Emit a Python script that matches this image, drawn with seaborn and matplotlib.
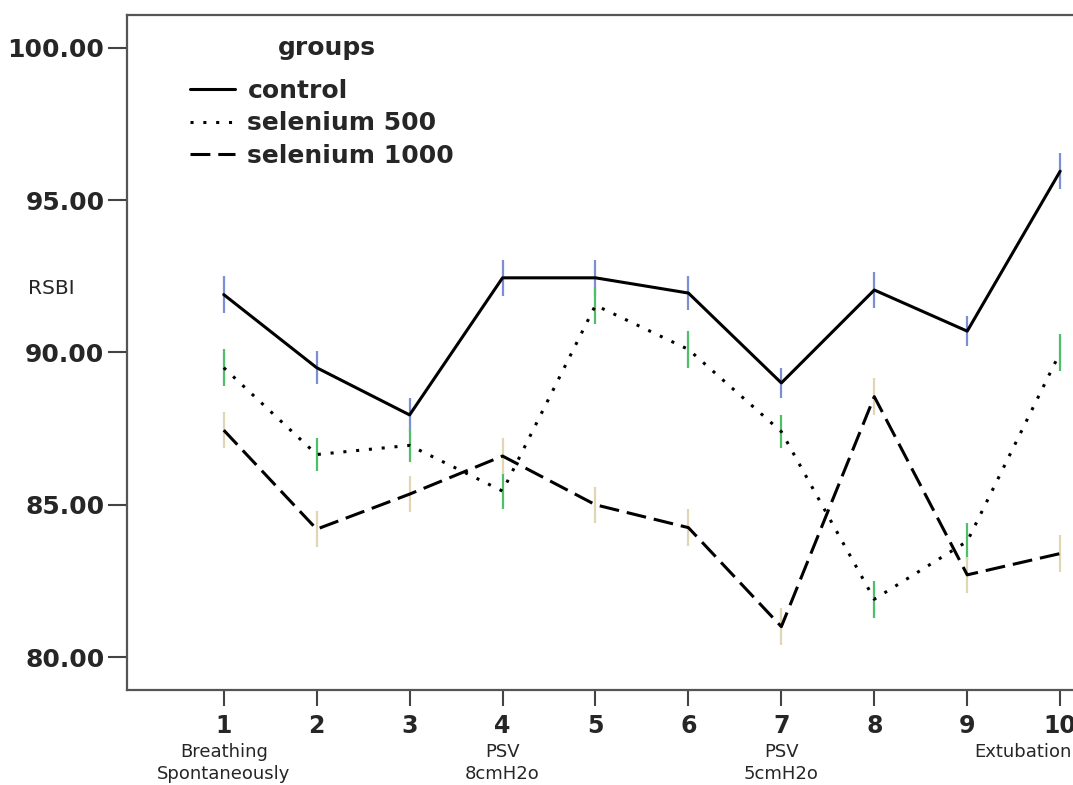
import pandas as pd
import matplotlib.pyplot as plt
import seaborn as sns

# data
times = [1, 2, 3, 4, 5, 6, 7, 8, 9, 10]
control = [91.9, 89.5, 87.95, 92.45, 92.45, 91.95, 89.0, 92.05, 90.7, 95.95]
selenium500 = [89.5, 86.65, 86.95, 85.45, 91.55, 90.1, 87.4, 81.9, 83.8, 90.0]
selenium1000 = [87.45, 84.2, 85.35, 86.6, 85.0, 84.25, 81.0, 88.55, 82.7, 83.4]
err_control = [0.6, 0.55, 0.55, 0.6, 0.6, 0.55, 0.5, 0.6, 0.5, 0.6]
err_500 = [0.6, 0.55, 0.55, 0.6, 0.6, 0.6, 0.55, 0.6, 0.6, 0.6]
err_1000 = [0.6, 0.6, 0.6, 0.6, 0.6, 0.6, 0.6, 0.6, 0.6, 0.6]
group_names = ["control", "selenium 500", "selenium 1000"]
phase_labels = {1: "Breathing\nSpontaneously", 4: "PSV\n8cmH2o", 7: "PSV\n5cmH2o", 9.6: "Extubation"}

df = pd.concat([
    pd.DataFrame({"time": times, "RSBI": control, "err": err_control, "groups": group_names[0]}),
    pd.DataFrame({"time": times, "RSBI": selenium500, "err": err_500, "groups": group_names[1]}),
    pd.DataFrame({"time": times, "RSBI": selenium1000, "err": err_1000, "groups": group_names[2]}),
])

sns.set_style("white")
plt.rcParams['font.family'] = ['DejaVu Sans']

fig = plt.figure(figsize=(10.73, 7.85), dpi=100)
ax = fig.add_axes([0.118, 0.121, 0.922, 0.860])

bar_colors = {"control": "#7b8fd6", "selenium 500": "#4fbf6a", "selenium 1000": "#e0d6b4"}
for g in group_names:
    sub = df[df["groups"] == g]
    ax.errorbar(sub["time"], sub["RSBI"], yerr=sub["err"], fmt="none",
                ecolor=bar_colors[g], elinewidth=1.6, capsize=0, zorder=1)

sns.lineplot(data=df, x="time", y="RSBI", style="groups", color="black",
             dashes={"control": "", "selenium 500": (1, 3.2), "selenium 1000": (6.5, 2.6)},
             linewidth=2.2, ax=ax, zorder=2)

ax.set_xlim(-0.045, 10.6)
ax.set_ylim(78.92, 101.08)
ax.set_yticks([80, 85, 90, 95, 100])
ax.set_yticklabels([f"{v:.2f}" for v in [80, 85, 90, 95, 100]], fontsize=18, fontweight="bold")
ax.set_xticks(times)
ax.set_xticklabels([str(t) for t in times], fontsize=17, fontweight="bold")
ax.tick_params(axis="y", direction="out", length=14, width=1.5, color="#444444", pad=2, left=True)
ax.tick_params(axis="x", direction="out", length=11.5, width=1.5, color="#444444", pad=6, bottom=True)
ax.set_xlabel("")
ax.set_ylabel("")

for side in ["left", "bottom", "top"]:
    ax.spines[side].set_color("#555555")
    ax.spines[side].set_linewidth(1.6)
ax.spines["right"].set_visible(False)

fig.text(0.026, 0.632, "RSBI", fontsize=14.5, va="center", ha="left")

for t, lab in phase_labels.items():
    ax.text(t, 78.92 - 1.75, lab, ha="center", va="top", fontsize=13, linespacing=1.25)

leg = ax.legend(loc="upper left", bbox_to_anchor=(0.064, 0.905),
                frameon=False, handlelength=1.8, handletextpad=0.5, labelspacing=0.33,
                borderpad=0, borderaxespad=0, prop={"size": 18, "weight": "bold"})
for line in leg.get_lines():
    line.set_linewidth(2.2)
fig.text(327 / 1073, 1 - 48 / 785, "groups", fontsize=18, fontweight="bold",
         ha="center", va="center")

fig.savefig("out.png", dpi=100)
